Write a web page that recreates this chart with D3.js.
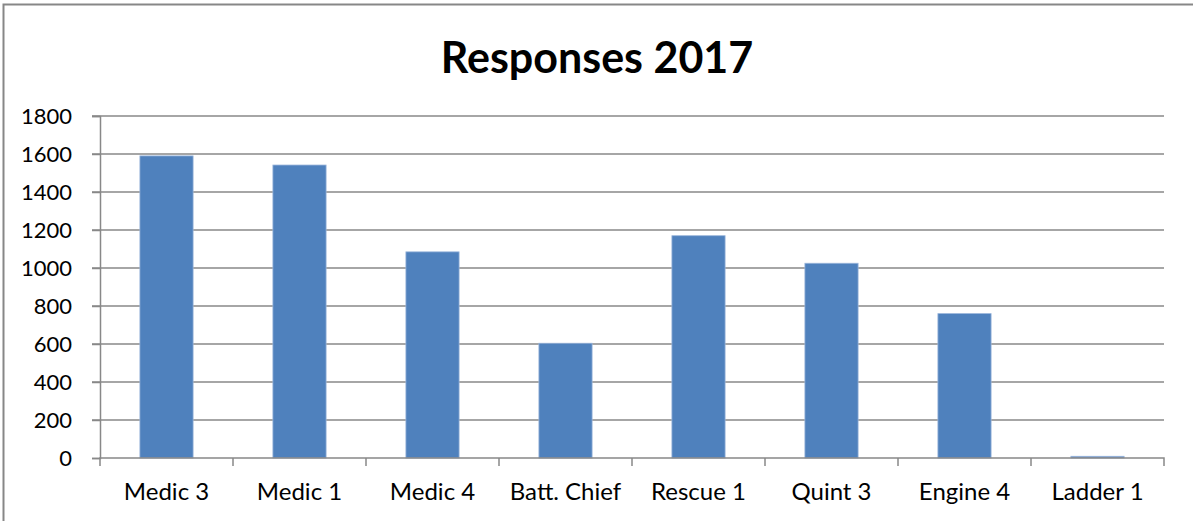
<!DOCTYPE html>
<html><head><meta charset="utf-8">
<script src="https://cdn.jsdelivr.net/npm/d3@7"></script>
<style>body{margin:0;background:#fff}svg{display:block}</style>
</head><body>
<svg id="c" width="1193" height="521"></svg>
<script>
const categories = ["Medic 3","Medic 1","Medic 4","Batt. Chief","Rescue 1","Quint 3","Engine 4","Ladder 1"];
const values = [1590, 1542, 1085, 604, 1170, 1025, 760, 9];
const yTicks = [0,200,400,600,800,1000,1200,1400,1600,1800];
const title = "Responses 2017";

(function(){
const svg = d3.select("#c");
const W = 1193, H = 521;
const pL = 100, pR = 1164, pT = 116, pB = 458;
const font = "Lato, 'Open Sans', sans-serif";

svg.append("rect").attr("width", W).attr("height", H).attr("fill", "#fff");
svg.append("rect").attr("x", 3.5).attr("y", 4.5).attr("width", 1300).attr("height", 700)
  .attr("fill", "none").attr("stroke", "#878787").attr("stroke-width", 2);

const x = d3.scaleBand().domain(categories).range([pL, pR]).paddingInner(0.6).paddingOuter(0.3);
const y = d3.scaleLinear().domain([0, 1800]).range([pB, pT]);
const step = (pR - pL) / categories.length;

// gridlines
svg.append("g").selectAll("line").data(yTicks.filter(d => d > 0)).join("line")
  .attr("x1", pL - 8).attr("x2", pR).attr("y1", d => y(d)).attr("y2", d => y(d))
  .attr("stroke", "#888").attr("stroke-width", 1.5);

// bars
svg.append("g").selectAll("rect").data(values).join("rect")
  .attr("x", (d, i) => x(categories[i]))
  .attr("y", d => y(d))
  .attr("width", x.bandwidth())
  .attr("height", d => y(0) - y(d))
  .attr("fill", "#4F81BD").attr("stroke", "#9BB6DB").attr("stroke-width", 0.8);

// y axis
const ya = svg.append("g").attr("transform", `translate(${pL},0)`)
  .call(d3.axisLeft(y).tickValues(yTicks).tickSize(8).tickPadding(20).tickFormat(d3.format("d")));
ya.select(".domain").attr("stroke", "#888").attr("stroke-width", 1.5);
ya.selectAll(".tick line").attr("stroke", "#888").attr("stroke-width", 1.5);
ya.selectAll("text").attr("font-family", font).attr("font-size", 22).attr("fill", "#000");

// x axis
const xa = svg.append("g").attr("transform", `translate(0,${pB})`)
  .call(d3.axisBottom(x).tickSize(0).tickPadding(0));
xa.select(".domain").attr("stroke", "#888").attr("stroke-width", 1.5).attr("d", `M${pL},8V0H${pR}V8`);
xa.selectAll(".tick text").attr("font-family", font).attr("font-size", 24).attr("fill", "#000").attr("y", 42).attr("dy", 0);
// category boundary ticks
svg.append("g").selectAll("line").data(d3.range(1, categories.length)).join("line")
  .attr("x1", i => pL + i * step).attr("x2", i => pL + i * step)
  .attr("y1", pB).attr("y2", pB + 8)
  .attr("stroke", "#888").attr("stroke-width", 1.5);

svg.append("text").attr("x", 597).attr("y", 73).attr("text-anchor", "middle")
  .attr("font-family", font).attr("font-weight", "bold").attr("font-size", 43).attr("fill", "#000").text(title);
})();
</script>
</body></html>
